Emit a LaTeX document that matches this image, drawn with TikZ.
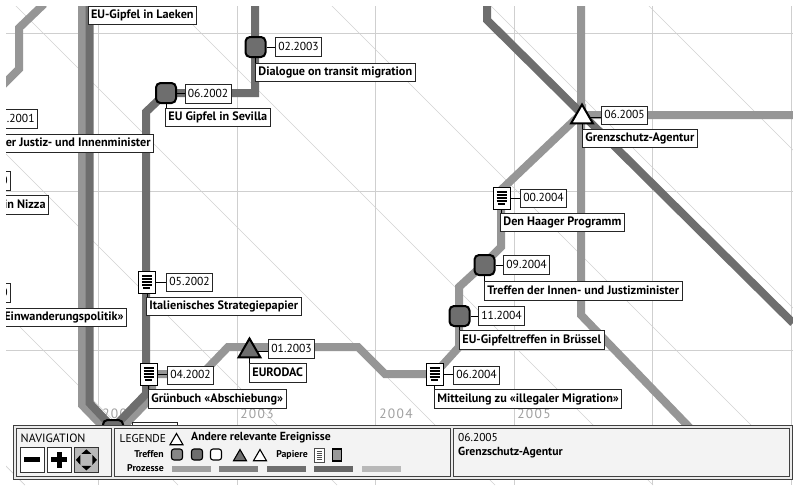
\documentclass[tikz,border=0pt]{standalone}
\usepackage{fontspec}
\setmainfont{PT Sans}
\usetikzlibrary{shapes.geometric}
\definecolor{procA}{HTML}{969696}
\definecolor{procB}{HTML}{6E6E6E}
\definecolor{gridc}{HTML}{CFCFCF}
\definecolor{diagc}{HTML}{D2D2D2}
\definecolor{panelbg}{HTML}{F3F3F3}
\definecolor{yearc}{HTML}{A0A0A0}
\tikzset{
  proclight/.style={draw=procA,line width=8pt,line join=miter},
  procdark/.style={draw=procB,line width=8pt,line join=miter},
  meet/.style={draw=black,line width=2pt,fill=procB,rounded corners=4.5pt,minimum size=20pt,inner sep=0pt},
  tri/.style={regular polygon,regular polygon sides=3,draw=black,line width=2pt,minimum size=25pt,inner sep=0pt},
  paper/.style={draw=black,line width=.9pt,fill=white,minimum width=17pt,minimum height=22pt,inner sep=0pt,
    path picture={\foreach \q in {6,3,0,-3}{\draw[line width=1.3pt] ([xshift=-5pt,yshift=\q pt]path picture bounding box.center) -- ++(10pt,0);}
      \draw[line width=1.3pt] ([xshift=-4pt,yshift=-6pt]path picture bounding box.center) -- ++(7pt,0);}},
  datebox/.style={draw=black!85,line width=.8pt,fill=white,inner sep=0pt,minimum height=18.5pt,text height=8.5pt,text depth=2pt,inner xsep=3pt,font=\fontsize{11.6}{14}\selectfont},
  titlebox/.style={datebox,font=\fontsize{12.2}{14}\selectfont\bfseries,minimum height=18.5pt},
  link/.style={draw=black,line width=.8pt},
  year/.style={text=yearc,font=\fontsize{13.5}{15}\selectfont\addfontfeatures{LetterSpace=10}},
  innerpanel/.style={draw=black!75,line width=.8pt,fill=panelbg},
  navbtn/.style={draw=black!80,line width=.8pt,fill=white,minimum width=24pt,minimum height=25pt,inner sep=0pt},
  bar/.style={minimum width=39pt,minimum height=6pt,inner sep=0pt,anchor=west},
  ltext/.style={font=\fontsize{11.4}{13}\selectfont,inner sep=0pt},
  ltextb/.style={font=\fontsize{9.8}{12}\selectfont\bfseries,inner sep=0pt},
  lbig/.style={font=\fontsize{11.7}{14}\selectfont\bfseries,inner sep=0pt},
  legm/.style={draw=black,line width=1.1pt,rounded corners=2.5pt,minimum size=11pt,inner sep=0pt},
  legt/.style={regular polygon,regular polygon sides=3,draw=black,line width=1.1pt,minimum size=15pt,inner sep=0pt},
}
\newcommand\evt[7]{%
  \node[#2] (#1) at (p#1) {};
  \node[datebox,anchor=west] (#1d) at #4 {#3};
  \node[titlebox,anchor=west] (#1t) at #6 {#5};
  \draw[link] (#1) -- (#1 -| #1d.west);
  \draw[link] (#7) -- (#7 |- #1t.north);
}
\begin{document}
\begin{tikzpicture}[x=1pt,y=-1pt]
\useasboundingbox (0,0) rectangle (793,485);
\fill[white] (0,0) rectangle (793,485);
\begin{scope}
\clip (6,6) rectangle (793,485);
% grid
\foreach \d in {-460,-307,-148,10,168,326,485,643}{\draw[diagc,line width=.7pt] (\d,0) -- (\d+485,485);}
\foreach \gy in {33,191,350}{\draw[gridc,line width=1pt] (0,\gy) -- (793,\gy);}
\foreach \gx in {98,237,375,514,652,791}{\draw[gridc,line width=1pt] (\gx,0) -- (\gx,485);}
% years
\node[year] at (119,414) {2002};
\node[year] at (257,414) {2003};
\node[year] at (396,414) {2004};
\node[year] at (534,414) {2005};
% event anchors
\coordinate (pa) at (255.5,47);
\coordinate (pb) at (166,93);
\coordinate (pc) at (147,282);
\coordinate (pd) at (148.5,374);
\coordinate (pe) at (249.5,351);
\coordinate (pf) at (434.5,374);
\coordinate (pg) at (459.5,316);
\coordinate (ph) at (484.5,265);
\coordinate (pi) at (501.5,198);
\coordinate (pj) at (582,117);
\coordinate (pk) at (113,430);
% processes
\draw[proclight] (44,4) -- (19,28) -- (19,69) -- (3,85);
\draw[proclight] (82,0) -- (82,405) -- (113,437) -- (152,397) -- (152,374) -- (pd);
\draw[proclight] (pd) -- (202,374) -- (228,347) -- (358,347) -- (385,374) -- (pf) -- (459,347) -- (459,287) -- (484,264) -- (501,247) -- (501,190) -- (582,113) -- (582,115) -- (793,115);
\draw[proclight] (581,0) -- (581,315) -- (690,428);
\draw[procdark] (89.5,0) -- (89.5,403) -- (113,428) -- (146,394) -- (146,112) -- (pb) -- (255,93) -- (255,0);
\draw[procdark] (487,0) -- (487,20) -- (793,323);
% events
\evt{a}{meet}{02.2003}{(275,47)}{Dialogue on transit migration}{(255,72.5)}{a}
\evt{b}{meet}{06.2002}{(184.5,94)}{EU Gipfel in Sevilla}{(165,117.5)}{b}
\evt{c}{paper}{05.2002}{(166,282.5)}{Italienisches Strategiepapier}{(146,306.5)}{c}
\evt{d}{paper}{04.2002}{(167,375.5)}{Grünbuch «Abschiebung»}{(148,399)}{d}
\evt{e}{tri,fill=procB}{01.2003}{(268,349)}{EURODAC}{(249,373)}{e}
\evt{f}{paper}{06.2004}{(453,375.5)}{Mitteilung zu «illegaler Migration»}{(434,399)}{f}
\evt{g}{meet}{11.2004}{(478,316)}{EU-Gipfeltreffen in Brüssel}{(459,340)}{g}
\evt{h}{meet}{09.2004}{(503,265)}{Treffen der Innen- und Justizminister}{(484,291)}{h}
\evt{i}{paper}{00.2004}{(520,198.5)}{Den Haager Programm}{(500,222.5)}{i}
\evt{j}{tri,fill=white}{06.2005}{(601,115.5)}{Grenzschutz-Agentur}{(582,138.5)}{j}
\node[meet] (k) at (pk) {};
\node[datebox,anchor=north west,minimum width=45pt] (kd) at (132,421.5) {};
\draw[link] (k) -- (kd.west |- k);
% titles without date marker
\node[titlebox,anchor=east] (laeken) at (197,15.5) {EU-Gipfel in Laeken};
\node[datebox,anchor=east] (d2001) at (38,119) {12.2001};
\node[titlebox,anchor=east] (justiz) at (154,143.5) {\hspace*{8pt}der Justiz- und Innenminister};
\node[datebox,anchor=east] (d2000a) at (11,181) {0};
\node[titlebox,anchor=east] (nizza) at (49,205) {\hspace*{8pt}in Nizza};
\node[datebox,anchor=east] (d2000b) at (11,293) {0};
\node[titlebox,anchor=east] (einw) at (127,317.5) {\hspace*{8pt}Einwanderungspolitik»};
\end{scope}
% panel
\node[draw=black!75,line width=.8pt,fill=black!8,minimum width=779pt,minimum height=53.5pt,anchor=north west,inner sep=0pt] (panel) at (12.5,425) {};
\node[innerpanel,minimum width=95.5pt,minimum height=47.5pt,anchor=north west,inner sep=0pt] (navp) at (15.5,428) {};
\node[innerpanel,minimum width=336pt,minimum height=47.5pt,anchor=north west,inner sep=0pt] (legp) at (114,428) {};
\node[innerpanel,minimum width=336pt,minimum height=47.5pt,anchor=north west,inner sep=0pt] (infop) at (453,428) {};
\node[ltext,anchor=west,font=\fontsize{12}{14}\selectfont] (navt) at (20.5,438) {NAVIGATION};
\node[navbtn,anchor=north west] (minus) at (20,447) {};
\node[navbtn,anchor=north west] (plus) at (47,447) {};
\node[navbtn,anchor=north west,fill=black!28] (pan) at (74,447) {};
\fill (minus.center) ++(-8,-2.5) rectangle ++(16,5);
\fill (plus.center) ++(-8,-2.5) rectangle ++(16,5);
\fill (plus.center) ++(-2.5,-8) rectangle ++(5,16);
\fill (pan.center) ++(0,-10.5) -- ++(5,4.5) -- ++(-10,0) -- cycle;
\fill (pan.center) ++(0,10.5) -- ++(5,-4.5) -- ++(-10,0) -- cycle;
\fill (pan.center) ++(-10.5,0) -- ++(4.5,5) -- ++(0,-10) -- cycle;
\fill (pan.center) ++(10.5,0) -- ++(-4.5,5) -- ++(0,-10) -- cycle;
\node[ltext,anchor=west] (legt) at (119.5,438.5) {LEGENDE};
\node[legt,fill=white] (lt0) at (176.5,441) {};
\node[lbig,anchor=west] (andere) at (191,438) {Andere relevante Ereignisse};
\node[ltextb,anchor=east] (treffen) at (164,454) {Treffen};
\node[legm,fill=procA!90!black] (lm1) at (177,454.5) {};
\node[legm,fill=procB] (lm2) at (197,454.5) {};
\node[legm,fill=white] (lm3) at (216,454.5) {};
\node[legt,fill=procB] (lt1) at (240,457) {};
\node[legt,fill=white] (lt2) at (260,457) {};
\node[ltextb,anchor=east] (papiere) at (308,455) {Papiere};
\node[draw=black!70,line width=.7pt,fill=white,minimum width=10pt,minimum height=14pt,inner sep=0pt,
  path picture={\foreach \q in {-4,-2,0,2,4}{\draw[black!70,line width=.7pt] ([xshift=-2.5pt,yshift=\q pt]path picture bounding box.center) -- ++(5pt,0);}}] (lp1) at (319,455) {};
\node[draw=black,line width=1.8pt,fill=black!40,minimum width=9pt,minimum height=12pt,inner sep=0pt] (lp2) at (337,455) {};
\node[ltextb,anchor=east] (proz) at (164,468) {Prozesse};
\node[bar,fill=procA!90!white] (b1) at (172,469) {};
\node[bar,fill=black!50] (b2) at (219,469) {};
\node[bar,fill=black!57] (b3) at (267,469) {};
\node[bar,fill=black!60] (b4) at (314,469) {};
\node[bar,fill=black!28] (b5) at (362,469) {};
\node[ltext,anchor=west] (infod) at (458,437.5) {06.2005};
\node[lbig,anchor=west] (infot) at (458,452.5) {Grenzschutz-Agentur};
\end{tikzpicture}
\end{document}
